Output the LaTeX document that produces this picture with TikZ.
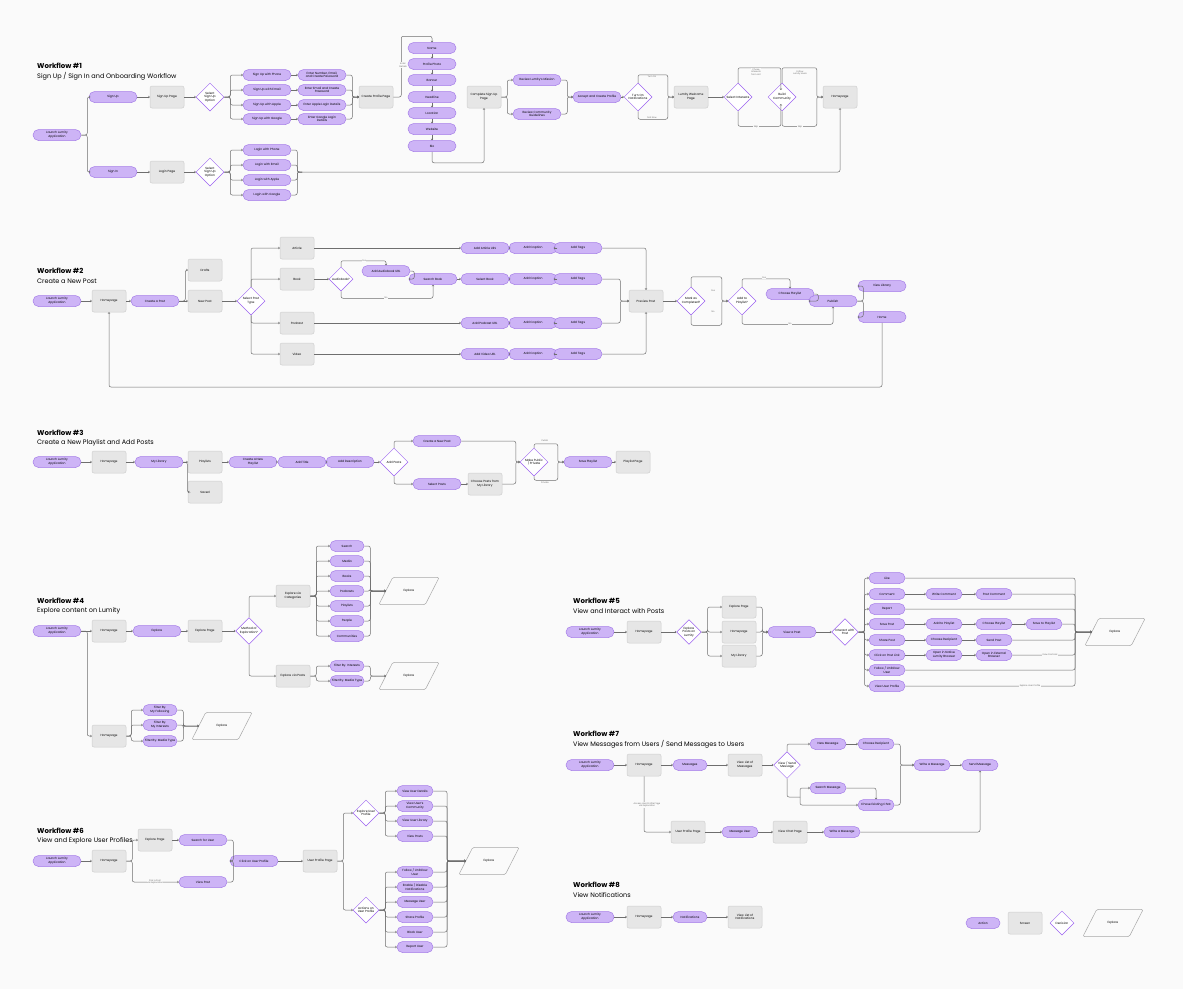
\documentclass[tikz,border=0pt]{standalone}
\usepackage{fontspec}
\setmainfont{Poppins}
\usetikzlibrary{shapes.geometric,arrows.meta,calc}
\definecolor{actfill}{HTML}{CDB4F6}
\definecolor{actline}{HTML}{A57DE8}
\definecolor{decline}{HTML}{9B61F0}
\definecolor{scrfill}{HTML}{E6E6E6}
\definecolor{scrline}{HTML}{CFCFCF}
\definecolor{wire}{HTML}{6E6E6E}
\tikzset{
	base/.style={align=center, font=\fontsize{3}{3.6}\selectfont, inner sep=0.5pt},
	act/.style={base, draw=actline, fill=actfill, line width=0.5pt, rounded corners=5.5pt, minimum width=48pt, minimum height=11pt},
	scr/.style={base, draw=scrline, fill=scrfill, line width=0.5pt, rounded corners=2pt, minimum width=34pt, minimum height=22pt},
	dec/.style={base, shape=diamond, draw=decline, fill=white, line width=0.5pt, minimum width=28pt, minimum height=28pt},
	expl/.style={base, minimum width=46pt, minimum height=27pt,
		append after command={\pgfextra{\draw[draw=wire!60, line width=0.5pt, rounded corners=1.5pt]
			([xshift=-7pt]\tikzlastnode.south west) -- ([xshift=-7pt]\tikzlastnode.south east)
			-- ([xshift=7pt]\tikzlastnode.north east) -- ([xshift=7pt]\tikzlastnode.north west) -- cycle;}}},
	conn/.style={draw=wire, line width=0.5pt, rounded corners=2pt, -{To[length=1.6pt,width=2.4pt]}},
	wireln/.style={draw=wire, line width=0.5pt, rounded corners=2pt},
	lbl/.style={font=\fontsize{2.2}{2.7}\selectfont, text=wire, align=center, fill=white!98!black, inner sep=0.5pt},
	wftitle/.style={anchor=west, font=\fontsize{7}{8}\selectfont\bfseries, inner sep=0},
	wfsub/.style={anchor=west, font=\fontsize{6.5}{8}\selectfont, inner sep=0}
}
\begin{document}
\begin{tikzpicture}[x=1pt, y=-1pt]
	\fill[white!98!black] (0,0) rectangle (1183,989);
	\useasboundingbox (0,0) rectangle (1183,989);

	% Workflow 1
	\node[wftitle] at (37,66) {Workflow \#1};
	\node[wfsub] at (37,76) {Sign Up / Sign In and Onboarding Workflow};
	\node[act] (launch1) at (57,135) {Launch Lumity\\Application};
	\node[act] (signup) at (113,97) {Sign Up};
	\node[act] (signin) at (113,172) {Sign In};
	\node[scr] (suppage) at (167,97) {Sign Up Page};
	\node[scr] (loginpage) at (167,172) {Login Page};
	\node[dec] (dsu) at (210,97) {Select\\Sign Up\\Option};
	\node[dec] (dli) at (210,172) {Select\\Sign Up\\Option};
	\foreach \n/\y/\t/\e in {1/75/{Sign Up with Phone}/{Enter Number, Email,\\and Create Password},
		2/90/{Sign Up with Email}/{Enter Email and Create\\Password},
		3/105/{Sign Up with Apple}/{Enter Apple Login Details},
		4/119/{Sign Up with Google}/{Enter Google Login\\Details}} {
		\node[act] (su\n) at (267,\y) {\t};
		\node[act] (en\n) at (322,\y) {\e};
	}
	\foreach \n/\y/\t in {1/150/{Login with Phone}, 2/165/{Login with Email}, 3/180/{Login with Apple}, 4/195/{Login with Google}}
		\node[act] (li\n) at (267,\y) {\t};
	\node[scr] (profile) at (376,97) {Create Profile Page};
	\foreach \n/\y/\t in {1/48/Name, 2/64/{Profile Photo}, 3/80/Banner, 4/97/Headline, 5/113/Location, 6/129/Website, 7/146/Bio}
		\node[act] (pf\n) at (432,\y) {\t};
	\node[scr] (complete) at (484,97) {Complete Sign Up\\Page};
	\node[act] (mission) at (537,80) {Review Lumity's Mission};
	\node[act] (guide) at (537,114) {Review Community\\Guidelines};
	\node[act] (accept) at (597,97) {Accept and Create Profile};
	\node[dec] (notif) at (638,97) {Turn On\\Notifications};
	\node[scr] (welcome) at (691,97) {Lumity Welcome\\Page};
	\node[dec] (interests) at (738,97) {Select Interests};
	\node[dec] (community) at (782,97) {Build\\Community};
	\node[scr] (home1) at (840,97) {Homepage};

	\draw[conn] (launch1.east) -- ++(6,0) |- (signup.west);
	\draw[conn] (launch1.east) -- ++(6,0) |- (signin.west);
	\draw[conn] (signup) -- (suppage);
	\draw[conn] (suppage) -- (dsu);
	\draw[conn] (signin) -- (loginpage);
	\draw[conn] (loginpage) -- (dli);
	\foreach \n in {1,...,4} {
		\draw[conn] (dsu.east) -- ++(6,0) |- (su\n.west);
		\draw[conn] (su\n) -- (en\n);
		\draw[conn] (en\n.east) -- ++(6,0) |- (profile.west);
		\draw[conn] (dli.east) -- ++(6,0) |- (li\n.west);
		\draw[wireln] (li\n.east) -- ++(6,0) |- (302,172);
	}
	\coordinate (lm) at (302,172);
	\draw[conn] (lm) -| (home1.south);
	\draw[conn] (profile.east) -- ++(8,0) |- ([yshift=6pt]pf1.north) -- (pf1.north);
	\node[lbl] at (403,65) {Enter\\Details};
	\foreach \a/\b in {1/2,2/3,3/4,4/5,5/6,6/7}
		\draw[conn] (pf\a) -- (pf\b);
	\draw[conn] (pf7.south) -- ++(0,11) -| (complete.south);
	\draw[conn] (complete.east) -- ++(6,0) |- (mission.west);
	\draw[conn] (complete.east) -- ++(6,0) |- (guide.west);
	\draw[conn] (mission.east) -- ++(6,0) |- (accept.west);
	\draw[conn] (guide.east) -- ++(6,0) |- (accept.west);
	\draw[conn] (accept) -- (notif);
	\draw[conn] (notif.north) -- ++(0,-8) -| ([xshift=-6pt]welcome.west) -- (welcome.west);
	\draw[conn] (notif.south) -- ++(0,8) -| ([xshift=-6pt]welcome.west) -- (welcome.west);
	\node[lbl] at (652,77) {Turn On};
	\node[lbl] at (652,118) {Not Now};
	\draw[conn] (welcome) -- (interests);
	\draw[conn] (interests.north) -- ++(0,-15) -| ([xshift=6pt]community.north west);
	\draw[conn] (interests.south) -- ++(0,15) -| ([xshift=6pt]community.south west);
	\node[lbl] at (756,72) {Chose\\Interests\\from List};
	\node[lbl] at (756,127) {Skip};
	\draw[conn] (community.north) -- ++(0,-15) -| ([xshift=-6pt]home1.west) -- (home1.west);
	\draw[conn] (community.south) -- ++(0,15) -| ([xshift=-6pt]home1.west) -- (home1.west);
	\node[lbl] at (800,73) {Follow\\Lumity Users};
	\node[lbl] at (800,127) {Skip};

	% Workflow 2
	\node[wftitle] at (37,271) {Workflow \#2};
	\node[wfsub] at (37,281) {Create a New Post};
	\node[act] (launch2) at (57,301) {Launch Lumity\\Application};
	\node[scr] (home2) at (109,301) {Homepage};
	\node[act] (create) at (155,301) {Create a Post};
	\node[scr] (drafts) at (205,270) {Drafts};
	\node[scr] (newpost) at (205,301) {New Post};
	\node[dec] (dtype) at (251,301) {Select Post\\Type};
	\node[scr] (article) at (297,248) {Article};
	\node[scr] (book) at (297,279) {Book};
	\node[scr] (podcast) at (297,323) {Podcast};
	\node[scr] (video) at (297,354) {Video};
	\node[dec, minimum width=24pt, minimum height=24pt] (dab) at (341,279) {Audiobook?};
	\node[act] (addaud) at (386,271) {Add Audiobook URL};
	\node[act] (searchbook) at (433,279) {Search Book};
	\foreach \n/\y/\t in {1/248/{Add Article URL}, 2/279/{Select Book}, 3/323/{Add Podcast URL}, 4/354/{Add Video URL}} {
		\node[act] (url\n) at (485,\y) {\t};
		\node[act] (cap\n) at (533,\y) {Add Caption};
		\node[act] (tag\n) at (578,\y) {Add Tags};
		\draw[conn] (url\n) -- (cap\n);
		\draw[conn] (cap\n) -- (tag\n);
	}
	\node[scr] (review) at (646,301) {Preview Post};
	\node[dec] (dcomp) at (691,301) {Mark as\\Completed?};
	\node[dec] (dpl) at (742,301) {Add to\\Playlist?};
	\node[act] (choose) at (790,294) {Choose Playlist};
	\node[act] (publish) at (833,301) {Publish};
	\node[act] (viewlib) at (882,286) {View Library};
	\node[act] (home2b) at (882,317) {Home};

	\draw[conn] (launch2) -- (home2);
	\draw[conn] (home2) -- (create);
	\draw[conn] (create.east) -- ++(6,0) |- (drafts.west);
	\draw[conn] (create) -- (newpost);
	\draw[conn] (newpost) -- (dtype);
	\draw[conn] (dtype.north) |- (article.west);
	\draw[conn] (dtype.north) |- (book.west);
	\draw[conn] (dtype.south) |- (podcast.west);
	\draw[conn] (dtype.south) |- (video.west);
	\draw[conn] (article) -- (url1);
	\draw[conn] (book) -- (dab);
	\draw[conn] (dab.north) -- ++(0,-6) -| (addaud.north);
	\draw[conn] (dab.south) -- ++(0,7) -| (searchbook.south);
	\node[lbl] at (364,261) {Yes};
	\node[lbl] at (386,298) {No};
	\draw[conn] (addaud.east) -- ++(4,0) |- (searchbook.west);
	\draw[conn] (searchbook) -- (url2);
	\draw[conn] (podcast) -- (url3);
	\draw[conn] (video) -- (url4);
	\draw[conn] (tag1.east) -| (review.north);
	\draw[conn] (tag2.east) -- ++(18,0) |- (review.west);
	\draw[conn] (tag3.east) -- ++(18,0) |- (review.west);
	\draw[conn] (tag4.east) -| (review.south);
	\draw[conn] (review) -- (dcomp);
	\draw[conn] (dcomp.north) -- ++(0,-10) -| ([xshift=-6pt]dpl.west) -- (dpl.west);
	\draw[conn] (dcomp.south) -- ++(0,10) -| ([xshift=-6pt]dpl.west) -- (dpl.west);
	\node[lbl] at (713,291) {Yes};
	\node[lbl] at (713,312) {No};
	\draw[conn] (dpl.north) -- ++(0,-8) -| (choose.north);
	\draw[conn] (dpl.south) -- ++(0,9) -| (publish.south);
	\node[lbl] at (764,278) {Yes};
	\node[lbl] at (790,324) {No};
	\draw[conn] (choose.east) -- ++(4,0) |- (publish.west);
	\draw[conn] (publish.east) -- ++(6,0) |- (viewlib.west);
	\draw[conn] (publish.east) -- ++(6,0) |- (home2b.west);
	\draw[conn] (home2b.south) |- (120,387) -| (home2.south);

	% Workflow 3
	\node[wftitle] at (37,433) {Workflow \#3};
	\node[wfsub] at (37,443) {Create a New Playlist and Add Posts};
	\node[act] (launch3) at (57,462) {Launch Lumity\\Application};
	\node[scr] (home3) at (109,462) {Homepage};
	\node[act] (mylib) at (159,462) {My Library};
	\node[scr] (playlists) at (205,462) {Playlists};
	\node[scr] (saved) at (205,492) {Saved};
	\node[act] (createpl) at (253,462) {Create a New\\Playlist};
	\node[act] (addtitle) at (302,462) {Add Title};
	\node[act] (adddesc) at (350,462) {Add Description};
	\node[dec] (dposts) at (394,462) {Add Posts};
	\node[act] (createnew) at (437,441) {Create a New Post};
	\node[act] (selectposts) at (437,484) {Select Posts};
	\node[scr] (choosepl) at (485,484) {Choose Posts from\\My Library};
	\node[dec] (dpub) at (534,462) {Make Public\\/ Private};
	\node[act] (save) at (588,462) {Save Playlist};
	\node[scr] (plpage) at (633,462) {Playlist Page};

	\draw[conn] (launch3) -- (home3);
	\draw[conn] (home3) -- (mylib);
	\draw[conn] (mylib) -- (playlists);
	\draw[conn] (mylib.east) -- ++(4,0) |- (saved.west);
	\draw[conn] (playlists) -- (createpl);
	\draw[conn] (createpl) -- (addtitle);
	\draw[conn] (addtitle) -- (adddesc);
	\draw[conn] (adddesc) -- (dposts);
	\draw[conn] (dposts.north) |- (createnew.west);
	\draw[conn] (dposts.south) |- (selectposts.west);
	\draw[conn] (selectposts) -- (choosepl);
	\draw[conn] (createnew.east) -| ([xshift=-4pt]dpub.west) -- (dpub.west);
	\draw[conn] (choosepl.east) -| ([xshift=-4pt]dpub.west) -- (dpub.west);
	\draw[conn] (dpub.north) -- ++(0,-4) -| ([xshift=-6pt]save.west) -- (save.west);
	\draw[conn] (dpub.south) -- ++(0,4) -| ([xshift=-6pt]save.west) -- (save.west);
	\node[lbl] at (545,441) {Public};
	\node[lbl] at (545,483) {Private};
	\draw[conn] (save) -- (plpage);

	% Workflow 4
	\node[wftitle] at (37,601) {Workflow \#4};
	\node[wfsub] at (37,611) {Explore content on Lumity};
	\node[act] (launch4) at (57,631) {Launch Lumity\\Application};
	\node[scr] (home4a) at (109,631) {Homepage};
	\node[act] (explore) at (157,631) {Explore};
	\node[scr] (expage) at (205,631) {Explore Page};
	\node[dec, minimum width=24pt, minimum height=24pt] (dmeth) at (249,631) {Method of\\Exploration?};
	\node[scr] (excat) at (293,596) {Explore via\\Categories};
	\foreach \n/\y/\t in {1/546/Search, 2/561/Media, 3/576/Books, 4/591/Podcasts, 5/606/Playlists, 6/621/People, 7/636/Communities}
		\node[act, minimum width=34pt] (cat\n) at (347,\y) {\t};
	\node[expl] (explore1) at (409,591) {Explore};
	\node[scr] (expost) at (293,676) {Explore via Posts};
	\node[act, minimum width=34pt] (filt1) at (347,666) {Filter By: Interests};
	\node[act, minimum width=34pt] (filt2) at (347,681) {Filter By: Media Type};
	\node[expl] (explore2) at (409,676) {Explore};
	\node[scr] (home4b) at (109,736) {Homepage};
	\foreach \n/\y/\t in {1/710/{Filter By:\\My Following}, 2/725/{Filter By:\\My Interests}, 3/741/{Filter By: Media Type}}
		\node[act, minimum width=34pt] (hf\n) at (160,\y) {\t};
	\node[expl] (explore3) at (222,726) {Explore};

	\draw[conn] (launch4) -- (home4a);
	\draw[conn] (launch4.east) -- ++(6,0) |- (home4b.west);
	\draw[conn] (home4a) -- (explore);
	\draw[conn] (explore) -- (expage);
	\draw[conn] (expage) -- (dmeth);
	\draw[conn] (dmeth.north) |- (excat.west);
	\draw[conn] (dmeth.south) |- (expost.west);
	\foreach \n in {1,...,7} {
		\draw[conn] (excat.east) -- ++(6,0) |- (cat\n.west);
		\draw[conn] (cat\n.east) -- ++(6,0) |- (explore1.west);
	}
	\foreach \n in {1,2} {
		\draw[conn] (expost.east) -- ++(6,0) |- (filt\n.west);
		\draw[conn] (filt\n.east) -- ++(6,0) |- (explore2.west);
	}
	\foreach \n in {1,2,3} {
		\draw[conn] (home4b.east) -- ++(5,0) |- (hf\n.west);
		\draw[conn] (hf\n.east) -- ++(6,0) |- (explore3.west);
	}

	% Workflow 5
	\node[wftitle] at (573,601) {Workflow \#5};
	\node[wfsub] at (573,611) {View and Interact with Posts};
	\node[act] (launch5) at (590,632) {Launch Lumity\\Application};
	\node[scr] (home5) at (644,632) {Homepage};
	\node[dec, minimum width=24pt, minimum height=24pt] (dexp) at (689,632) {Explore\\Posts on\\Lumity};
	\node[scr] (exppage5) at (739,607) {Explore Page};
	\node[scr] (homepage5) at (739,632) {Homepage};
	\node[scr] (mylib5) at (739,656) {My Library};
	\node[act] (view) at (792,632) {View a Post};
	\node[dec, minimum width=24pt, minimum height=24pt] (dint) at (845,632) {Interact with\\Post};
	\foreach \n/\y/\t in {1/578/Like, 2/594/Comment, 3/609/Report, 4/624/{Save Post}, 5/640/{Share Post}, 6/655/{Click on Post Link}, 7/670/{Follow / Unfollow\\User}, 8/686/{View User Profile}}
		\node[act, minimum width=36pt] (ia\n) at (887,\y) {\t};
	\node[act, minimum width=36pt] (wc) at (944,594) {Write Comment};
	\node[act, minimum width=36pt] (pc) at (994,594) {Post Comment};
	\node[act, minimum width=36pt] (atp) at (944,624) {Add to Playlist};
	\node[act, minimum width=36pt] (chp) at (994,624) {Choose Playlist};
	\node[act, minimum width=36pt] (stp) at (1044,624) {Save to Playlist};
	\node[act, minimum width=36pt] (chr) at (944,640) {Choose Recipient};
	\node[act, minimum width=36pt] (sp) at (994,640) {Send Post};
	\node[act, minimum width=36pt] (onb) at (944,655) {Open in Native\\Lumity Browser};
	\node[act, minimum width=36pt] (oeb) at (994,655) {Open in External\\Browser};
	\node[expl] (explore5) at (1115,632) {Explore};

	\draw[conn] (launch5) -- (home5);
	\draw[conn] (home5) -- (dexp);
	\foreach \s in {exppage5, homepage5, mylib5} {
		\draw[conn] (dexp.east) -- ++(6,0) |- (\s.west);
		\draw[conn] (\s.east) -- ++(6,0) |- (view.west);
	}
	\draw[conn] (view) -- (dint);
	\foreach \n in {1,...,8}
		\draw[conn] (dint.east) -- ++(6,0) |- (ia\n.west);
	\draw[conn] (ia2) -- (wc);
	\draw[conn] (wc) -- (pc);
	\draw[conn] (ia4) -- (atp);
	\draw[conn] (atp) -- (chp);
	\draw[conn] (chp) -- (stp);
	\draw[conn] (ia5) -- (chr);
	\draw[conn] (chr) -- (sp);
	\draw[conn] (ia6) -- (onb);
	\draw[conn] (onb) -- (oeb);
	\foreach \s in {ia1, pc, ia3, stp, sp, oeb, ia7, ia8}
		\draw[conn] (\s.east) -| (1075,632) -- (explore5.west);
	\node[lbl] at (1050,655) {View Post Link};
	\node[lbl] at (1030,686) {Explore User Profile};

	% Workflow 6
	\node[wftitle] at (37,831) {Workflow \#6};
	\node[wfsub] at (37,841) {View and Explore User Profiles};
	\node[act] (launch6) at (57,861) {Launch Lumity\\Application};
	\node[scr] (home6) at (109,861) {Homepage};
	\node[scr] (exppage6) at (155,840) {Explore Page};
	\node[act] (searchuser) at (203,840) {Search for User};
	\node[act] (viewpost6) at (203,882) {View Post};
	\node[act] (click) at (254,861) {Click on User Profile};
	\node[scr] (upp) at (320,861) {User Profile Page};
	\node[dec, minimum width=26pt, minimum height=26pt] (dexu) at (366,813) {Explore User\\Profile};
	\node[dec, minimum width=26pt, minimum height=26pt] (dact) at (366,910) {Actions on\\User Profile};
	\foreach \n/\y/\t in {1/791/{View User Details}, 2/806/{View User's\\Community}, 3/821/{View User Library}, 4/836/{View Posts}}
		\node[act, minimum width=36pt] (ue\n) at (415,\y) {\t};
	\foreach \n/\y/\t in {1/872/{Follow / Unfollow\\User}, 2/887/{Enable / Disable\\Notifications}, 3/902/{Message User}, 4/917/{Share Profile}, 5/932/{Block User}, 6/947/{Report User}}
		\node[act, minimum width=36pt] (ua\n) at (415,\y) {\t};
	\node[expl] (explore6) at (489,861) {Explore};

	\draw[conn] (launch6) -- (home6);
	\draw[conn] (home6.east) -- ++(6,0) |- (exppage6.west);
	\draw[conn] (home6.east) -- ++(6,0) |- (viewpost6.west);
	\node[lbl] at (155,882) {Pick a Post\\via Exploration};
	\draw[conn] (exppage6) -- (searchuser);
	\draw[conn] (searchuser.east) -- ++(6,0) |- (click.west);
	\draw[conn] (viewpost6.east) -- ++(6,0) |- (click.west);
	\draw[conn] (click) -- (upp);
	\draw[conn] (upp.east) -- ++(6,0) |- (dexu.west);
	\draw[conn] (upp.east) -- ++(6,0) |- (dact.west);
	\foreach \n in {1,...,4} {
		\draw[conn] (dexu.east) -- ++(6,0) |- (ue\n.west);
		\draw[conn] (ue\n.east) -| (447,861) -- (explore6.west);
	}
	\foreach \n in {1,...,6} {
		\draw[conn] (dact.east) -- ++(6,0) |- (ua\n.west);
		\draw[conn] (ua\n.east) -| (447,861) -- (explore6.west);
	}

	% Workflow 7
	\node[wftitle] at (573,734) {Workflow \#7};
	\node[wfsub] at (573,744) {View Messages from Users / Send Messages to Users};
	\node[act] (launch7) at (590,765) {Launch Lumity\\Application};
	\node[scr] (home7) at (644,765) {Homepage};
	\node[act, minimum width=34pt] (messages) at (690,765) {Messages};
	\node[scr] (viewlist) at (745,765) {View List of\\Messages};
	\node[dec, minimum width=24pt, minimum height=24pt] (dvs) at (787,765) {View / Send\\Message};
	\node[act, minimum width=36pt] (newmsg) at (828,744) {New Message};
	\node[act, minimum width=36pt] (chooser) at (876,744) {Choose Recipient};
	\node[act, minimum width=36pt] (searchmsg) at (828,788) {Search Message};
	\node[act, minimum width=36pt] (chooseex) at (876,805) {Chose Existing Chat};
	\node[act, minimum width=36pt] (write7) at (932,765) {Write a Message};
	\node[act, minimum width=36pt] (send7) at (980,765) {Send Message};
	\node[scr] (userpp) at (688,832) {User Profile Page};
	\node[act, minimum width=36pt] (msguser) at (740,832) {Message User};
	\node[scr] (chat) at (790,832) {View Chat Page};
	\node[act, minimum width=36pt] (write7b) at (842,832) {Write a Message};

	\draw[conn] (launch7) -- (home7);
	\draw[conn] (home7) -- (messages);
	\draw[conn] (messages) -- (viewlist);
	\draw[conn] (viewlist) -- (dvs);
	\draw[conn] (dvs.north) |- (newmsg.west);
	\draw[conn] (newmsg) -- (chooser);
	\coordinate (v7) at (800,797);
	\draw[wireln] (dvs.south) |- (v7);
	\draw[conn] (v7) |- (searchmsg.west);
	\draw[conn] (v7) |- (chooseex.west);
	\draw[conn] (searchmsg.east) -| (chooseex.north);
	\draw[conn] (chooser.east) -- ++(6,0) |- (write7.west);
	\draw[conn] (chooseex.east) -- ++(6,0) |- (write7.west);
	\draw[conn] (write7) -- (send7);
	\draw[conn] (home7.south) |- (userpp.west);
	\node[lbl] at (647,805) {Access User Profile Page\\via Exploration};
	\draw[conn] (userpp) -- (msguser);
	\draw[conn] (msguser) -- (chat);
	\draw[conn] (chat) -- (write7b);
	\draw[conn] (write7b.east) -| (send7.south);

	% Workflow 8
	\node[wftitle] at (573,885) {Workflow \#8};
	\node[wfsub] at (573,895) {View Notifications};
	\node[act] (launch8) at (590,917) {Launch Lumity\\Application};
	\node[scr] (home8) at (644,917) {Homepage};
	\node[act, minimum width=34pt] (notifs) at (690,917) {Notifications};
	\node[scr] (viewnot) at (745,917) {View List of\\Notifications};
	\draw[conn] (launch8) -- (home8);
	\draw[conn] (home8) -- (notifs);
	\draw[conn] (notifs) -- (viewnot);

	% Legend
	\node[act, minimum width=34pt] (lgact) at (983,923) {Action};
	\node[scr] (lgscr) at (1025,923) {Screen};
	\node[dec, minimum width=24pt, minimum height=24pt] (lgdec) at (1062,923) {Decision};
	\node[expl] (lgexp) at (1113,923) {Explore};
\end{tikzpicture}
\end{document}
